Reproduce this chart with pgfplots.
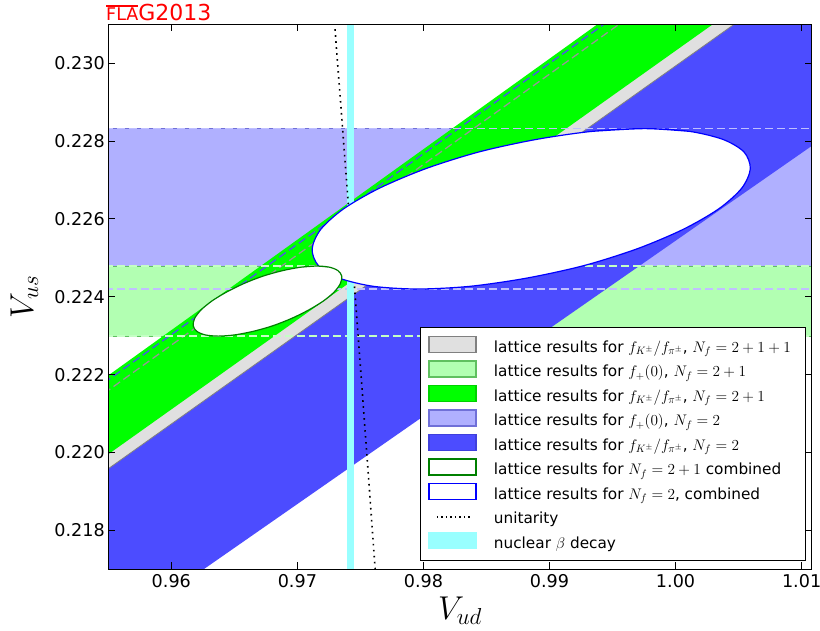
\RequirePackage{fix-cm}
\documentclass[border=0pt]{standalone}
\usepackage{fontspec}
\setmainfont{DejaVu Sans}
\usepackage{pgfplots}
\pgfplotsset{compat=1.18}
\definecolor{lblue}{RGB}{176,176,255}
\definecolor{lblueedge}{RGB}{112,112,216}
\definecolor{lbluedash}{RGB}{192,192,255}
\definecolor{dblue}{RGB}{76,76,255}
\definecolor{dbluedash}{RGB}{80,80,240}
\definecolor{dblueedge}{RGB}{64,64,220}
\definecolor{lgreen}{RGB}{178,255,178}
\definecolor{lgreenedge}{RGB}{96,192,96}
\definecolor{lgreendash}{RGB}{196,255,196}
\definecolor{bgreen}{RGB}{0,255,0}
\definecolor{bgreenedge}{RGB}{0,210,0}
\definecolor{lgray}{RGB}{224,224,224}
\definecolor{dgray}{RGB}{128,128,128}
\definecolor{graydash}{RGB}{150,150,150}
\definecolor{cyanband}{RGB}{153,255,255}
\definecolor{ellgreen}{RGB}{0,128,0}
\definecolor{ellblue}{RGB}{0,0,255}
\pgfplotsset{
  mypatch/.style={legend image code/.code={
      \path[fill=none,draw=none] (0pt,-5.6pt) rectangle (65pt,18.9pt);
      \draw[##1] (0pt,0pt) rectangle (47pt,16.1pt);}},
  mydots/.style={legend image code/.code={
      \path[fill=none,draw=none] (0pt,-5.6pt) rectangle (65pt,18.9pt);
      \draw[##1] (8pt,7pt) -- (42pt,7pt);}},
}
\begin{document}
\begin{tikzpicture}
\useasboundingbox (-108.3pt,-60.7pt) rectangle (711.7pt,569.3pt);
\begin{axis}[
  at={(0pt,0pt)}, anchor=south west,
  scale only axis, width=703.4pt, height=545pt,
  xmin=0.955, xmax=1.0108, ymin=0.217, ymax=0.231,
  xtick={0.96,0.97,0.98,0.99,1.00,1.01},
  ytick={0.218,0.220,0.222,0.224,0.226,0.228,0.230},
  scaled x ticks=false, scaled y ticks=false,
  x tick label style={/pgf/number format/fixed, /pgf/number format/fixed zerofill, /pgf/number format/precision=2},
  y tick label style={/pgf/number format/fixed, /pgf/number format/fixed zerofill, /pgf/number format/precision=3},
  tick label style={font=\fontsize{17.6}{17.6}\selectfont, black},
  /pgf/number format/assume math mode=true,
  xticklabel shift=1.5pt,
  tick align=inside, major tick length=7pt,
  axis on top,
  axis line style={line width=1.1pt, black},
  tick style={line width=0.9pt, black},
  xlabel={$V_{ud}$}, ylabel={$V_{us}$},
  label style={font=\fontsize{33}{33}\selectfont},
  xlabel style={at={(axis description cs:0.5,-0.093)}, anchor=base},
  ylabel style={at={(axis description cs:-0.1067,0.5)}, anchor=base},
  legend style={at={(axis description cs:0.9919,0.0152)}, anchor=south east,
    draw=black, line width=1.2pt, fill=white, inner xsep=7.5pt, inner ysep=6.4pt,
    row sep=0pt, column sep=0pt, font=\fontsize{15.3}{18}\selectfont,
    nodes={inner sep=0pt, text height=11pt, text depth=4pt}, cells={anchor=base west}},
]
% f+(0), Nf=2
\addplot[forget plot, fill=lblue, draw=lblueedge, line width=0.8pt] coordinates {(0.95,0.22420) (1.02,0.22420) (1.02,0.22832) (0.95,0.22832)} -- cycle;
% f+(0), Nf=2+1
\addplot[forget plot, fill=lgreen, draw=lgreenedge, line width=0.8pt] coordinates {(0.95,0.22299) (1.02,0.22299) (1.02,0.22479) (0.95,0.22479)} -- cycle;
% fK/fpi, Nf=2
\addplot[forget plot, fill=dblue, draw=none] coordinates {(0.95,0.214168) (1.02,0.229949) (1.02,0.236966) (0.95,0.220704)} -- cycle;
% fK/fpi, Nf=2+1+1
\addplot[forget plot, fill=lgray, draw=dgray, line width=0.8pt] coordinates {(0.95,0.218434) (1.02,0.234529) (1.02,0.236681) (0.95,0.220438)} -- cycle;
% fK/fpi, Nf=2+1
\addplot[forget plot, fill=bgreen, draw=none] coordinates {(0.95,0.218804) (1.02,0.234926) (1.02,0.237089) (0.95,0.220818)} -- cycle;
% dashed band edges
\addplot[forget plot, dbluedash, line width=1.3pt, dash pattern=on 8pt off 4pt] coordinates {(0.95,0.220704) (1.02,0.236966)};
\addplot[forget plot, graydash, line width=1.3pt, dash pattern=on 8pt off 4pt] coordinates {(0.95,0.220438) (1.02,0.236681)};
\addplot[forget plot, lbluedash, line width=1.3pt, dash pattern=on 8pt off 4pt] coordinates {(0.95,0.22832) (1.02,0.22832)};
\addplot[forget plot, lbluedash, line width=1.3pt, dash pattern=on 8pt off 4pt] coordinates {(0.95,0.22420) (1.02,0.22420)};
\addplot[forget plot, lgreendash, line width=1.3pt, dash pattern=on 8pt off 4pt] coordinates {(0.95,0.22479) (1.02,0.22479)};
\addplot[forget plot, lgreendash, line width=1.3pt, dash pattern=on 8pt off 4pt] coordinates {(0.95,0.22299) (1.02,0.22299)};
% nuclear beta decay
\addplot[forget plot, fill=cyanband, draw=none] coordinates {(0.97393,0.21) (0.97450,0.21) (0.97450,0.24) (0.97393,0.24)} -- cycle;
% unitarity
\addplot[forget plot, black, line width=1.6pt, dash pattern=on 1.6pt off 4.4pt] coordinates {
(0.976614,0.215) (0.976170,0.217) (0.975725,0.219) (0.975274,0.221) (0.974818,0.223)
(0.974359,0.225) (0.973895,0.227) (0.973426,0.229) (0.972954,0.231) (0.972477,0.233)};
% Nf=2 combined ellipse
\addplot[forget plot, smooth, fill=white, draw=ellblue, line width=1.2pt] coordinates {
(1.00109,0.22825) (0.99755,0.22832) (0.99339,0.22825) (0.98891,0.22804) (0.98439,0.22772)
(0.98017,0.22729) (0.97651,0.22679) (0.97367,0.22626) (0.97185,0.22573) (0.97117,0.22523)
(0.97167,0.22480) (0.97332,0.22448) (0.97601,0.22427) (0.97955,0.22420) (0.98371,0.22427)
(0.98819,0.22448) (0.99271,0.22480) (0.99693,0.22523) (1.00059,0.22573) (1.00343,0.22626)
(1.00525,0.22679) (1.00593,0.22729) (1.00543,0.22772) (1.00378,0.22804) (1.00109,0.22825)
(0.99755,0.22832) (0.99339,0.22825)};
% Nf=2+1 combined ellipse
\addplot[forget plot, smooth, fill=white, draw=ellgreen, line width=1.2pt] coordinates {
(0.97255,0.22476) (0.97154,0.22479) (0.97026,0.22476) (0.96880,0.22467) (0.96726,0.22453)
(0.96575,0.22434) (0.96437,0.22412) (0.96321,0.22389) (0.96235,0.22366) (0.96184,0.22344)
(0.96174,0.22325) (0.96203,0.22311) (0.96271,0.22302) (0.96372,0.22299) (0.96500,0.22302)
(0.96646,0.22311) (0.96800,0.22325) (0.96951,0.22344) (0.97089,0.22366) (0.97205,0.22389)
(0.97291,0.22412) (0.97341,0.22434) (0.97352,0.22453) (0.97323,0.22467) (0.97255,0.22476)
(0.97154,0.22479) (0.97026,0.22476)};
% legend
\addlegendimage{mypatch, fill=lgray, draw=dgray, line width=1.4pt}
\addlegendentry{lattice results for $f_{K^\pm}/f_{\pi^\pm}$, $N_f=2+1+1$\hspace*{7pt}}
\addlegendimage{mypatch, fill=lgreen, draw=lgreenedge, line width=1.4pt}
\addlegendentry{lattice results for $f_+(0)$, $N_f=2+1$}
\addlegendimage{mypatch, fill=bgreen, draw=bgreenedge, line width=1.4pt}
\addlegendentry{lattice results for $f_{K^\pm}/f_{\pi^\pm}$, $N_f=2+1$}
\addlegendimage{mypatch, fill=lblue, draw=lblueedge, line width=1.4pt}
\addlegendentry{lattice results for $f_+(0)$, $N_f=2$}
\addlegendimage{mypatch, fill=dblue, draw=dblueedge, line width=1.4pt}
\addlegendentry{lattice results for $f_{K^\pm}/f_{\pi^\pm}$, $N_f=2$}
\addlegendimage{mypatch, fill=white, draw=ellgreen, line width=1.4pt}
\addlegendentry{lattice results for $N_f=2+1$ combined}
\addlegendimage{mypatch, fill=white, draw=ellblue, line width=1.4pt}
\addlegendentry{lattice results for $N_f=2$, combined}
\addlegendimage{mydots, black, line width=1.2pt, dash pattern=on 1.2pt off 3.3pt}
\addlegendentry{unitarity}
\addlegendimage{mypatch, fill=cyanband, draw=cyanband, line width=1.4pt}
\addlegendentry{nuclear $\beta$ decay}
\end{axis}
\node[anchor=base west, inner sep=0pt, text=red] at (-2.3pt,548.6pt)
  {\fontsize{17.5}{17.5}\selectfont\rlap{\rule[13.8pt]{31.8pt}{2pt}}FLA\fontsize{22}{22}\selectfont G2013};
\end{tikzpicture}
\end{document}
